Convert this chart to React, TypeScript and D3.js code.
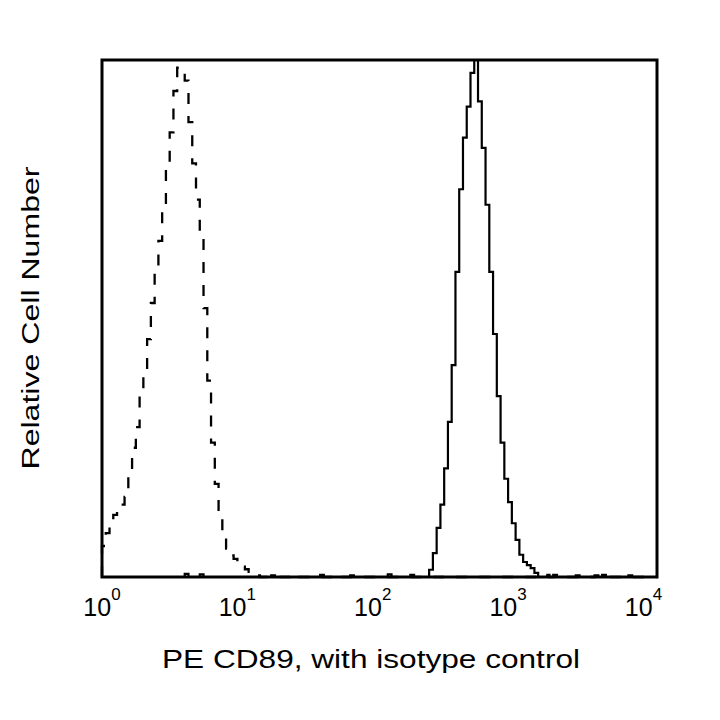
import { useEffect, useRef } from 'react';
import { select, scaleLog, scaleLinear, line, curveStepAfter } from 'd3';

const width = 720;
const height = 720;
const frame = { left: 102, top: 60, right: 657, bottom: 577 };

// log axis runs a little past the last labelled decade
const maxDecade = 4.1;
const binsPerDecade = 36;
const totalBins = Math.ceil(maxDecade * binsPerDecade);

const tickExponents = [0, 1, 2, 3, 4];

// isotype control histogram (relative counts), starting at bin 0
const isotypeStart = 0;
const isotypeCounts = [
  6, 8.5, 10.5, 12, 13, 14, 15.5, 20, 25, 29, 35, 39, 46, 53, 60, 65, 72, 80,
  86, 94, 98.5, 98, 96, 88, 80, 73, 66, 52, 38, 26, 18, 12.5, 9, 5.5, 4.2, 3.5,
  2.7, 2, 1.5, 1, 0.6, 0.3,
];
const isotypeBlips: [number, number][] = [
  [50, 0.4], [62, 0.3], [118, 0.4], [131, 0.3],
];

// PE CD89 stained cells
const cd89Start = 87;
const cd89Counts = [
  1.4, 4.6, 9.5, 14, 21, 30, 41, 59, 75, 85, 91, 97.5, 100, 92, 83, 72, 59, 47,
  35, 26, 19, 14.5, 10.4, 7.2, 4.3, 2.9, 2.3, 1.7, 0.8,
];
const cd89Blips: [number, number][] = [
  [22, 0.6], [26, 0.5], [45, 0.3], [58, 0.4], [66, 0.3], [76, 0.5], [82, 0.4],
  [120, 0.4], [126, 0.3], [133, 0.4], [140, 0.3],
];

function buildBins(start: number, counts: number[], blips: [number, number][]) {
  const bins = new Array(totalBins).fill(0);
  blips.forEach(([b, c]) => (bins[b] = c));
  counts.forEach((c, i) => (bins[start + i] = c));
  return bins;
}

function FlowHistogram() {
  const ref = useRef<SVGSVGElement>(null);

  useEffect(() => {
    const svg = select(ref.current);
    svg.selectAll('*').remove();

    const x = scaleLog()
      .domain([1, Math.pow(10, maxDecade)])
      .range([frame.left, frame.right]);
    const y = scaleLinear().domain([0, 100]).range([frame.bottom, frame.top]);

    const toPoints = (bins: number[]) => {
      const pts: [number, number][] = [[1, 0]];
      bins.forEach((c, k) => pts.push([Math.pow(10, k / binsPerDecade), c]));
      pts.push([Math.pow(10, maxDecade), bins[bins.length - 1]]);
      return pts;
    };

    const histLine = line<[number, number]>()
      .x((d) => x(d[0]))
      .y((d) => y(d[1]))
      .curve(curveStepAfter);

    const font = "'Liberation Sans', Arial, sans-serif";

    svg
      .append('path')
      .attr('d', histLine(toPoints(buildBins(isotypeStart, isotypeCounts, isotypeBlips))))
      .attr('fill', 'none')
      .attr('stroke', '#000')
      .attr('stroke-width', 2.3)
      .attr('stroke-dasharray', '11,12');

    svg
      .append('path')
      .attr('d', histLine(toPoints(buildBins(cd89Start, cd89Counts, cd89Blips))))
      .attr('fill', 'none')
      .attr('stroke', '#000')
      .attr('stroke-width', 2.2);

    svg
      .append('rect')
      .attr('x', frame.left)
      .attr('y', frame.top)
      .attr('width', frame.right - frame.left)
      .attr('height', frame.bottom - frame.top)
      .attr('fill', 'none')
      .attr('stroke', '#000')
      .attr('stroke-width', 3);

    // decade labels as 10 with a raised exponent
    const labels = svg
      .selectAll('text.tick')
      .data(tickExponents)
      .join('text')
      .attr('class', 'tick')
      .attr('x', (d) => x(Math.pow(10, d)))
      .attr('y', 616)
      .attr('text-anchor', 'middle')
      .style('font-family', font)
      .style('font-size', '25px');
    labels.append('tspan').text('10');
    labels
      .append('tspan')
      .attr('dy', -16)
      .style('font-size', '17px')
      .text((d) => String(d));

    svg
      .append('text')
      .attr('x', 371)
      .attr('y', 668)
      .attr('text-anchor', 'middle')
      .attr('font-family', font)
      .attr('font-size', 25)
      .attr('textLength', 418)
      .attr('lengthAdjust', 'spacingAndGlyphs')
      .text('PE CD89, with isotype control');

    svg
      .append('text')
      .attr('transform', 'translate(38.5,318) rotate(-90)')
      .attr('text-anchor', 'middle')
      .attr('font-family', font)
      .attr('font-size', 23.5)
      .attr('textLength', 303)
      .attr('lengthAdjust', 'spacingAndGlyphs')
      .text('Relative Cell Number');
  }, []);

  return (
    <svg
      ref={ref}
      width={width}
      height={height}
      style={{ position: 'absolute', left: 0, top: 0, background: '#fff' }}
    />
  );
}

export default function App() {
  return <FlowHistogram />;
}
